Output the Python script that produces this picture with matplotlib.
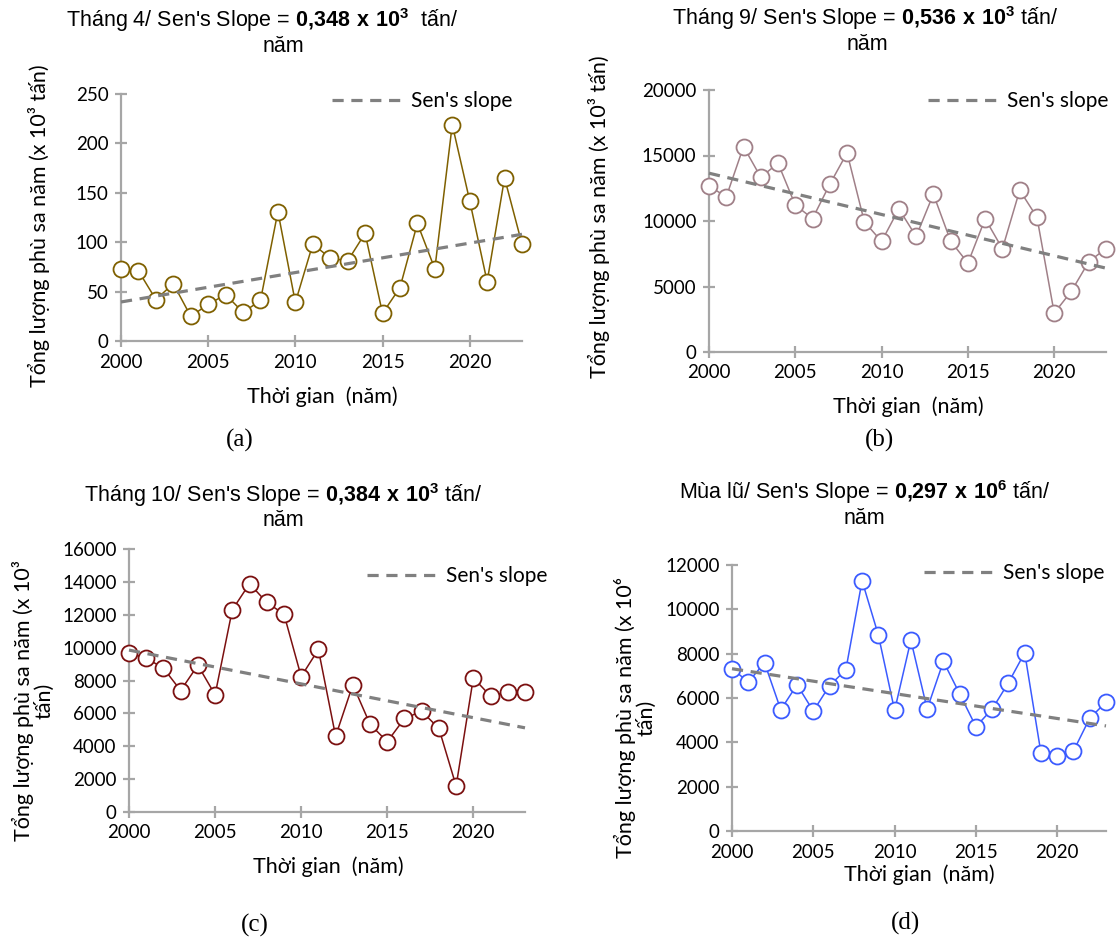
import numpy as np
import matplotlib
matplotlib.use("Agg")
import matplotlib.pyplot as plt

plt.rcParams['mathtext.fontset'] = 'custom'
plt.rcParams['mathtext.rm'] = 'Liberation Sans'
plt.rcParams['mathtext.bf'] = 'Liberation Sans:bold'

years = np.arange(2000, 2024)
trend_years = [2000, 2023]

# Tháng 4
thang4 = [73, 71, 42, 58, 25, 37, 47, 29, 41, 131, 39, 98,
          84, 81, 109, 28, 54, 119, 73, 219, 142, 60, 165, 98]
sen4 = [39.5, 108]

# Tháng 9
thang9 = [12680, 11840, 15680, 13340, 14410, 11210, 10190, 12810, 15200, 9940, 8440, 10930,
          8820, 12050, 8460, 6790, 10170, 7880, 12350, 10290, 2970, 4650, 6890, 7900]
sen9 = [13650, 6400]

# Tháng 10
thang10 = [9670, 9360, 8750, 7390, 8930, 7130, 12300, 13890, 12750, 12040, 8240, 9890,
           4610, 7740, 5340, 4280, 5690, 6130, 5080, 1580, 8160, 7050, 7330, 7290]
sen10 = [9850, 5120]

# Mùa lũ
mualu = [7330, 6720, 7590, 5470, 6600, 5410, 6560, 7270, 11290, 8840, 5440, 8610,
         5500, 7650, 6190, 4710, 5500, 6690, 8040, 3520, 3390, 3610, 5090, 5810]
senlu = [7320, 4740]

W, H = 1116, 940
fig = plt.figure(figsize=(W / 100, H / 100), dpi=100)

CAL = ['Lato', 'DejaVu Sans']
ARIAL = ['Liberation Sans', 'DejaVu Sans']
AXC = '#A6A6A6'


def px(x, y):
    return x / W, 1 - y / H


def panel(left, right, top, bottom, vals, sen, ymax, ystep, color):
    ax = fig.add_axes([left / W, 1 - bottom / H, (right - left) / W, (bottom - top) / H])
    ax.plot(years, vals, '-o', color=color, lw=1.1, ms=11.5, mfc='white',
            mec=color, mew=1.3, clip_on=False, zorder=3)
    ax.plot(trend_years, sen, '--', color='#808080', lw=2.3, dashes=(3.5, 2.4),
            clip_on=False, zorder=4, label="Sen's slope")
    ax.set_xlim(2000, 2023)
    ax.set_ylim(0, ymax)
    ax.set_xticks([2000, 2005, 2010, 2015, 2020])
    ax.set_yticks(np.arange(0, ymax + 1, ystep))
    for s in ['top', 'right']:
        ax.spines[s].set_visible(False)
    for s in ['left', 'bottom']:
        ax.spines[s].set_color(AXC)
        ax.spines[s].set_linewidth(1.6)
    ax.tick_params(direction='inout', length=8, width=1.6, color=AXC,
                   labelsize=13.5, pad=5)
    for lab in ax.get_xticklabels() + ax.get_yticklabels():
        lab.set_family(CAL)
    ax.patch.set_alpha(0)
    return ax


def title(xc, y, txt):
    fig.text(*px(xc, y), txt, ha='center', va='center', fontsize=15.5, family=ARIAL)


def ylabel(x, y, txt):
    fig.text(*px(x, y), txt, rotation=90, ha='center', va='center', fontsize=15.5,
             family=CAL, linespacing=1.0)


def xlabel(x, y):
    fig.text(*px(x, y), "Thời gian  (năm)", ha='center', va='center', fontsize=15.5, family=CAL)


def tag(x, y, txt):
    fig.text(*px(x, y), txt, ha='center', va='center', fontsize=18, family='Liberation Serif')


def legend(ax, x, y):
    ax.legend(loc='center left', bbox_to_anchor=px(x, y), bbox_transform=fig.transFigure,
              frameon=False, borderpad=0, borderaxespad=0, handlelength=3.3,
              handletextpad=0.5, prop={'family': CAL, 'size': 15})


# (a)
ax = panel(121, 522, 94, 341, thang4, sen4, 250, 50, '#7F6000')
title(262, 20, r"Tháng 4/ Sen's Slope = $\mathbf{0{,}348\ x\ 10^3}$  tấn/")
title(283, 47, "năm")
ylabel(39, 226, "Tổng lượng phù sa năm (x 10³ tấn)")
xlabel(322, 397)
tag(240, 440, "(a)")
legend(ax, 332, 101)

# (b)
ax = panel(709, 1106, 90, 352, thang9, sen9, 20000, 5000, '#A08088')
title(865, 18, r"Tháng 9/ Sen's Slope = $\mathbf{0{,}536\ x\ 10^3}$ tấn/")
title(867, 45, "năm")
ylabel(599, 217, "Tổng lượng phù sa năm (x 10³ tấn)")
xlabel(908, 407)
tag(880, 440, "(b)")
legend(ax, 928, 101)

# (c)
ax = panel(129, 525, 549, 812, thang10, sen10, 16000, 2000, '#7B1010')
title(283, 495, r"Tháng 10/ Sen's Slope = $\mathbf{0{,}384\ x\ 10^3}$ tấn/")
title(283, 520, "năm")
ylabel(33, 701, "Tổng lượng phù sa năm (x 10³\ntấn)")
xlabel(328, 867)
tag(255, 925, "(c)")
legend(ax, 367, 576)

# (d)
ax = panel(732, 1106, 565, 831, mualu, senlu, 12000, 2000, '#3B5BFF')
title(865, 492, r"Mùa lũ/ Sen's Slope = $\mathbf{0{,}297\ x\ 10^6}$ tấn/")
title(864, 518, "năm")
ylabel(635, 718, "Tổng lượng phù sa năm (x 10⁶\ntấn)")
xlabel(919, 875)
tag(905, 923, "(d)")
legend(ax, 924, 573)

fig.savefig("out.png", dpi=100)
